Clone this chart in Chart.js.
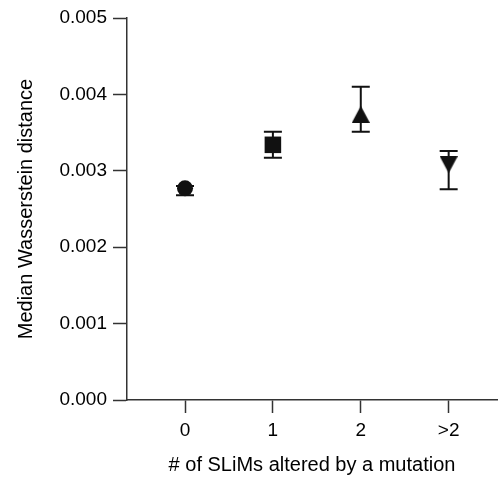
<!DOCTYPE html>
<html>
<head>
<meta charset="utf-8">
<script src="https://cdn.jsdelivr.net/npm/chart.js@4/dist/chart.umd.min.js"></script>
<style>
  html, body { margin: 0; padding: 0; background: #fff; }
  #wrap { width: 498px; height: 477px; position: relative; }
</style>
</head>
<body>
<div id="wrap"><canvas id="c"></canvas></div>
<script>
// Groups on the x axis: number of short linear motifs changed by a mutation
const categories = ['0', '1', '2', '>2'];
// Median Wasserstein distance per group
const medians = [0.00277, 0.00334, 0.00374, 0.00308];
// Interval bounds drawn as error bars
const errLow  = [0.00268, 0.00317, 0.00351, 0.00276];
const errHigh = [0.00280, 0.00351, 0.00410, 0.00326];
// Y axis ticks
const yTicks = [0, 0.001, 0.002, 0.003, 0.004, 0.005];

const INK = '#111';
const AXIS = '#333';
const FONT = "'Liberation Sans', Arial, sans-serif";

// Filled triangle marker, centred on its bounding box
function triangleMarker(w, h, down) {
  const c = document.createElement('canvas');
  c.width = w; c.height = h;
  const g = c.getContext('2d');
  g.fillStyle = INK;
  g.beginPath();
  if (down) {
    g.moveTo(0, 0); g.lineTo(w, 0); g.lineTo(w / 2, h);
  } else {
    g.moveTo(w / 2, 0); g.lineTo(w, h); g.lineTo(0, h);
  }
  g.closePath();
  g.fill();
  return c;
}

const markerStyles = ['circle', 'rect', triangleMarker(18, 17, false), triangleMarker(18, 17, true)];
const markerRadius = [8, 11.7, 9, 9];

// Error bars with caps, placed through the chart scales
const errorBars = {
  id: 'errorBars',
  beforeDatasetsDraw(chart) {
    const { ctx, scales: { x, y } } = chart;
    ctx.save();
    ctx.strokeStyle = INK;
    ctx.lineWidth = 2;
    const cap = 9;
    categories.forEach((_, i) => {
      const px = x.getPixelForValue(i);
      const lo = y.getPixelForValue(errLow[i]);
      const hi = y.getPixelForValue(errHigh[i]);
      ctx.beginPath();
      ctx.moveTo(px, lo); ctx.lineTo(px, hi);
      ctx.moveTo(px - cap, lo); ctx.lineTo(px + cap, lo);
      ctx.moveTo(px - cap, hi); ctx.lineTo(px + cap, hi);
      ctx.stroke();
    });
    ctx.restore();
  }
};

new Chart(document.getElementById('c'), {
  type: 'scatter',
  data: {
    datasets: [{
      data: categories.map((c, i) => ({ x: i, y: medians[i] })),
      pointStyle: markerStyles,
      pointRadius: markerRadius,
      pointBackgroundColor: INK,
      pointBorderColor: INK,
      pointBorderWidth: 0,
      showLine: false
    }]
  },
  options: {
    responsive: true,
    maintainAspectRatio: false,
    animation: false,
    events: [],
    layout: { autoPadding: false, padding: { top: 18, right: 1, left: 0, bottom: 0 } },
    plugins: { legend: { display: false }, tooltip: { enabled: false } },
    scales: {
      x: {
        type: 'linear',
        min: -0.66,
        max: 3.55,
        afterBuildTicks(scale) { scale.ticks = categories.map((_, i) => ({ value: i })); },
        afterFit(scale) {
          scale.height = 77;
          scale.paddingLeft = 0;
          scale.paddingRight = 0;
        },
        ticks: {
          callback: (v) => categories[v],
          color: '#000',
          font: { family: FONT, size: 19 },
          padding: 6,
          maxRotation: 0
        },
        grid: { drawOnChartArea: false, tickLength: 13, tickColor: AXIS, tickWidth: 1.5 },
        border: { color: AXIS, width: 1.5 },
        title: {
          display: true,
          text: '# of SLiMs altered by a mutation',
          color: '#000',
          font: { family: FONT, size: 20 },
          padding: { top: 4, bottom: 0 }
        }
      },
      y: {
        min: 0,
        max: 0.005,
        afterBuildTicks(scale) { scale.ticks = yTicks.map(v => ({ value: v })); },
        afterFit(scale) {
          scale.width = 127;
          scale.paddingTop = 0;
          scale.paddingBottom = 0;
        },
        ticks: {
          callback: (v) => v.toFixed(3),
          color: '#000',
          font: { family: FONT, size: 19 },
          padding: 6
        },
        grid: { drawOnChartArea: false, tickLength: 14, tickColor: AXIS, tickWidth: 1.5 },
        border: { color: AXIS, width: 1.5 },
        title: {
          display: true,
          text: 'Median Wasserstein distance',
          color: '#000',
          font: { family: FONT, size: 20 },
          padding: { top: 14, bottom: 4 }
        }
      }
    }
  },
  plugins: [errorBars]
});
</script>
</body>
</html>
